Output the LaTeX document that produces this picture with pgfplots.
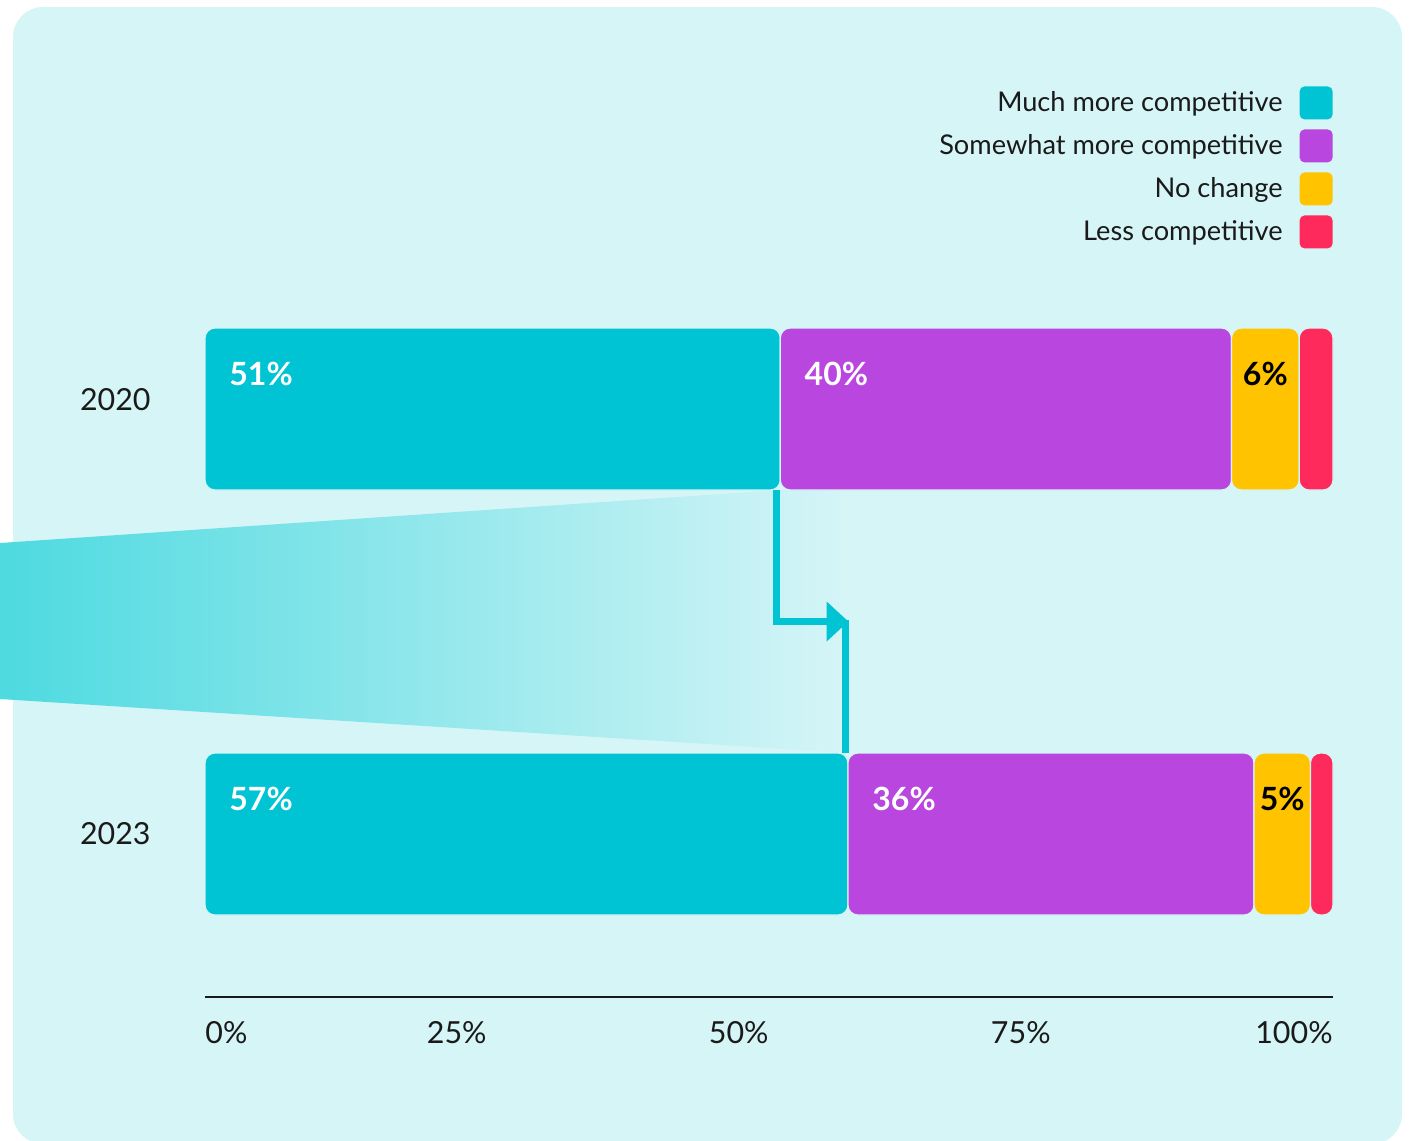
\documentclass[border=0pt]{standalone}
\usepackage{fontspec}
\setmainfont{Lato}
\usepackage{pgfplots}
\pgfplotsset{compat=1.18}
\definecolor{bgc}{HTML}{D6F5F7}
\definecolor{cmuch}{HTML}{00C4D3}
\definecolor{csome}{HTML}{B946DE}
\definecolor{cnone}{HTML}{FFC300}
\definecolor{cless}{HTML}{FF2A5C}
\definecolor{cgrad}{HTML}{4DDAE0}
\definecolor{txt}{HTML}{1A1A1A}
\pgfplotsset{
  sqlegend/.style={legend image code/.code={%
    \fill[##1, draw=none, rounded corners=2.5pt] (0pt,-8.25pt) rectangle (16.5pt,8.25pt);}},
}
\begin{document}
\begin{tikzpicture}
% background card (1px = 0.5pt)
\fill[bgc, rounded corners=15pt] (6.5pt,-3.5pt) rectangle (701pt,-572pt);
\begin{axis}[
  at={(102.5pt,-498.5pt)}, anchor=south west,
  scale only axis, width=564pt, height=348.5pt,
  xmin=0, xmax=100, ymin=0, ymax=697,
  clip=false,
  xbar stacked, reverse stacked plots=false, bar width=162,
  axis x line*=bottom, axis y line*=left,
  x axis line style={-, line width=1pt, color=txt},
  y axis line style={draw=none},
  major tick length=0pt,
  /pgf/number format/assume math mode=true,
  ticklabel style={font=\fontsize{15.2}{18}\selectfont, text=txt},
  xtick={25,50,75,100},
  xticklabel={\pgfmathprintnumber{\tick}\%},
  xticklabel style={anchor=north east, inner sep=0pt, yshift=-12pt},
  extra x ticks={0}, extra x tick labels={0\%},
  extra x tick style={xticklabel style={anchor=north west}},
  ytick={163.5,597},
  yticklabels={2023,2020},
  yticklabel style={anchor=east, inner sep=0pt, xshift=-27pt},
  legend plot pos=right,
  legend cell align=right,
  legend style={draw=none, fill=none, at={(1,1.307)}, anchor=north east,
    inner sep=0pt, row sep=5pt, column sep=8.5pt,
    font=\fontsize{13.6}{16}\selectfont, text=txt,
    nodes={inner sep=0pt}},
  sqlegend,
]
% fading funnel from 2020 to 2023
\shade[left color=cgrad, right color=bgc, draw=none]
  (axis cs:-18.17,454) -- (axis cs:51,507) -- (axis cs:57.03,507)
  -- (axis cs:57.03,244) -- (axis cs:-18.17,298) -- cycle;
% arrow
\draw[cmuch, line width=3.5pt]
  (axis cs:50.62,507) -- (axis cs:50.62,375.5) -- (axis cs:55.4,375.5);
\fill[cmuch] (axis cs:55.11,395.5) -- (axis cs:57.03,375.5) -- (axis cs:55.11,355.5) -- cycle;
\draw[cmuch, line width=3.5pt] (axis cs:56.74,377) -- (axis cs:56.74,244);

\addplot[fill=cmuch, draw=bgc, line width=0.6pt, rounded corners=5pt]
  coordinates {(51,588) (57,163)};
\addlegendentry{Much more competitive}
\addplot[fill=csome, draw=bgc, line width=0.6pt, rounded corners=5pt]
  coordinates {(40,588) (36,163)};
\addlegendentry{Somewhat more competitive}
\addplot[fill=cnone, draw=bgc, line width=0.6pt, rounded corners=5pt]
  coordinates {(6,588) (5,163)};
\addlegendentry{No change}
\addplot[fill=cless, draw=bgc, line width=0.6pt, rounded corners=5pt]
  coordinates {(3,588) (2,163)};
\addlegendentry{Less competitive}

\node[anchor=west, white, inner sep=0pt, font=\fontsize{16}{18}\selectfont\bfseries] at (axis cs:2.13,623) {51\%};
\node[anchor=west, white, inner sep=0pt, font=\fontsize{16}{18}\selectfont\bfseries] at (axis cs:53.13,623) {40\%};
\node[black, inner sep=0pt, font=\fontsize{16}{18}\selectfont\bfseries] at (axis cs:94,623) {6\%};
\node[anchor=west, white, inner sep=0pt, font=\fontsize{16}{18}\selectfont\bfseries] at (axis cs:2.13,198) {57\%};
\node[anchor=west, white, inner sep=0pt, font=\fontsize{16}{18}\selectfont\bfseries] at (axis cs:59.13,198) {36\%};
\node[black, inner sep=0pt, font=\fontsize{16}{18}\selectfont\bfseries] at (axis cs:95.5,198) {5\%};
\end{axis}
\pgfresetboundingbox
\path[use as bounding box] (0pt,0pt) rectangle (705.5pt,-570pt);
\end{tikzpicture}
\end{document}
